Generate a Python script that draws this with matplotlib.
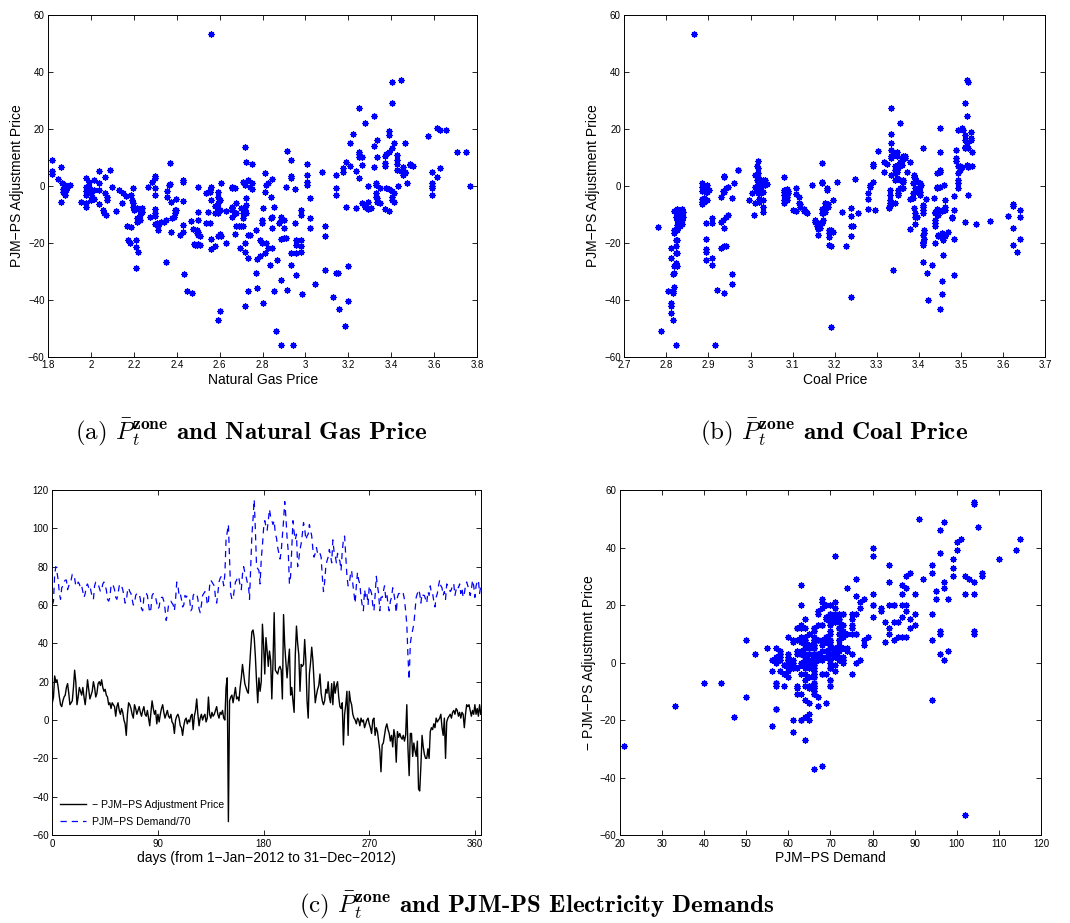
import matplotlib
matplotlib.use("Agg")
import matplotlib.pyplot as plt
from matplotlib.ticker import FuncFormatter
import numpy as np

plt.rcParams['font.family'] = ['Liberation Sans', 'DejaVu Sans']
plt.rcParams['mathtext.fontset'] = 'cm'

# (a) natural gas price vs PJM-PS adjustment price
gas_pts = [
    (1.82, 9.0), (1.82, 5.4), (1.82, 4.2), (1.847, 2.3), (1.859, 6.8), (1.859, -5.7),
    (1.865, 1.2), (1.87, -1.0), (1.875, -2.5), (1.88, -3.0), (1.885, -1.5), (1.878, 0.5),
    (1.89, -0.5), (1.872, -2.0), (1.904, 0.3), (1.952, -5.5),
    (1.976, 2.7), (1.976, -0.2), (1.976, -1.6), (1.976, -3.2), (1.976, -6.1), (1.976, -7.2),
    (1.99, 1.5), (1.99, -0.5), (2.0, -2.0), (2.0, -2.6), (2.005, -3.7), (2.0, -4.9),
    (2.014, 2.1), (2.014, -1.4), (2.014, -4.7),
    (2.038, 5.4), (2.038, 1.2), (2.038, -1.4), (2.038, -6.3),
    (2.056, -8.4), (2.06, -9.6), (2.066, 3.3), (2.066, -2.3), (2.07, -10.2),
    (2.075, -3.7), (2.077, -4.9), (2.087, 5.8), (2.1, -0.5), (2.119, -8.6), (2.131, -1.4),
    (2.147, -6.1), (2.15, -2.6), (2.162, -3.5), (2.17, -14.2), (2.175, -19.0), (2.18, -20.0),
    (2.185, -14.5), (2.189, -3.2), (2.19, -5.0), (2.195, -6.0), (2.195, -7.2), (2.196, -0.8),
    (2.2, -8.4), (2.209, -19.0), (2.212, -21.3), (2.21, -28.8), (2.215, -7.8), (2.215, -11.3),
    (2.215, -12.5), (2.218, -23.3), (2.227, -8.4), (2.227, -10.2), (2.227, -12.0),
    (2.24, -7.8), (2.24, -9.0), (2.266, -0.2), (2.277, -11.0), (2.285, 1.5),
    (2.297, 3.5), (2.297, 2.7), (2.297, -0.8), (2.297, -3.2), (2.297, -8.2), (2.297, -9.6),
    (2.3, -10.5), (2.3, -13.3), (2.313, -14.2), (2.313, -15.4), (2.31, -13.0),
    (2.328, -12.5), (2.341, -12.5), (2.352, -12.0), (2.355, -1.6), (2.355, -4.0),
    (2.364, 0.4), (2.37, 8.2), (2.37, 0.7), (2.372, -5.5), (2.372, -16.2), (2.352, -26.5),
    (2.38, -11.3), (2.385, -10.7), (2.391, -9.6), (2.391, -8.4), (2.398, -4.7), (2.398, -8.4),
    (2.414, -17.2), (2.429, 2.1), (2.43, 1.5), (2.429, -5.1), (2.429, -13.7), (2.43, -16.0),
    (2.434, -31.0), (2.448, -36.7), (2.468, -12.1), (2.471, -37.6), (2.476, -15.0),
    (2.481, -20.5), (2.485, -20.6), (2.492, -15.4), (2.492, -16.6), (2.492, -20.7),
    (2.499, -0.2), (2.499, -9.0), (2.499, -11.9), (2.499, -16.0), (2.499, -17.2), (2.5, -20.5),
    (2.507, -17.7), (2.507, -20.7), (2.538, -12.8), (2.537, -2.3), (2.546, -9.0),
    (2.554, -2.0), (2.554, -1.4), (2.554, -12.8), (2.558, 53.5), (2.561, -0.5), (2.561, -4.9),
    (2.561, -18.7), (2.561, -22.2), (2.577, -7.0), (2.577, -9.6), (2.577, -21.2),
    (2.593, -2.0), (2.593, -3.7), (2.593, -6.1), (2.593, -7.8), (2.593, -9.6), (2.593, -17.5),
    (2.593, -47.0), (2.6, -4.9), (2.6, -8.4), (2.6, -17.0), (2.6, -44.0), (2.605, 1.2),
    (2.608, -17.7), (2.628, -8.6), (2.631, -20.0),
    (2.659, -0.2), (2.659, -0.8), (2.659, -7.2), (2.659, -7.8), (2.659, -8.4), (2.659, -10.7),
    (2.67, -0.8), (2.67, -9.6), (2.67, -17.0), (2.678, -14.2), (2.678, -9.6), (2.678, -6.1),
    (2.69, -14.2), (2.694, -21.8), (2.701, -7.8), (2.701, -14.2), (2.709, 1.5), (2.709, -9.6),
    (2.709, -11.3), (2.709, -14.2), (2.717, 13.8), (2.717, 0.3), (2.717, -7.5), (2.717, -8.4),
    (2.717, -20.0), (2.717, -23.2), (2.717, -42.0), (2.725, 8.5), (2.725, -4.3), (2.725, -6.6),
    (2.725, -9.6), (2.732, 2.1), (2.732, -17.2), (2.732, -25.3), (2.732, -37.0),
    (2.743, -0.5), (2.743, -17.2), (2.753, 7.9), (2.753, 1.2), (2.753, -1.2),
    (2.768, -15.6), (2.768, -30.6), (2.774, -35.8), (2.774, -25.7), (2.787, -18.9),
    (2.787, -24.7), (2.795, -11.9), (2.795, -13.0), (2.795, -20.0), (2.802, -7.8),
    (2.802, -41.0), (2.81, 4.7), (2.81, -2.0), (2.81, -23.6), (2.818, 0.3), (2.818, -20.0),
    (2.826, 1.2), (2.826, -21.8), (2.833, -27.7), (2.837, -3.7), (2.837, -11.3),
    (2.846, 2.3), (2.846, -10.7), (2.846, -14.8), (2.846, -21.8), (2.852, -7.2), (2.852, -37.0),
    (2.865, -25.9), (2.861, -50.7), (2.877, -13.0), (2.885, -55.7), (2.885, -33.1),
    (2.888, -10.7), (2.888, -11.9), (2.888, -18.7), (2.899, -11.9), (2.899, -14.8),
    (2.899, -18.3), (2.908, -0.5), (2.908, -18.3), (2.914, 12.4), (2.914, -36.4),
    (2.934, 9.3), (2.934, 3.5), (2.934, 2.7), (2.934, -23.6), (2.934, -27.7), (2.942, -55.9),
    (2.95, -1.2), (2.95, -12.8), (2.958, -18.9), (2.958, -20.7), (2.958, -23.6), (2.958, -31.2),
    (2.981, -8.4), (2.981, -10.2), (2.981, -18.9), (2.981, -21.2), (2.981, -23.0),
    (2.986, -37.8), (3.007, 7.6), (3.007, 3.9), (3.007, 1.5), (3.007, 0.3), (3.02, -4.3),
    (3.02, -11.3), (3.02, -14.8), (3.043, -34.3), (3.079, 4.8), (3.09, -14.2), (3.09, -17.5),
    (3.09, -29.4), (3.126, -38.8), (3.141, 3.9), (3.141, -0.8), (3.141, -3.2), (3.141, -30.6),
    (3.152, -30.6), (3.157, -43.2), (3.175, 6.2), (3.175, 5.0), (3.183, -49.0), (3.191, 8.5),
    (3.191, -7.5), (3.199, -40.2), (3.199, -28.0), (3.206, 15.2), (3.206, 7.0), (3.222, 18.4),
    (3.234, 5.4), (3.234, -7.7), (3.25, 27.5), (3.25, 12.0), (3.25, 11.2), (3.25, 10.3),
    (3.25, 2.7), (3.265, 10.3), (3.265, 7.4), (3.265, -5.8), (3.276, 22.0), (3.276, -7.5),
    (3.292, 0.0), (3.292, -5.5), (3.292, -8.2), (3.307, -7.8), (3.318, 24.5), (3.318, 14.0),
    (3.318, 6.8), (3.328, 1.2), (3.328, 0.3), (3.328, -2.6), (3.328, -3.7), (3.335, 16.3),
    (3.335, 10.3), (3.335, -4.3), (3.335, -5.5), (3.346, -0.8), (3.346, -6.1),
    (3.37, 10.5), (3.37, 8.2), (3.37, 7.0), (3.37, -8.2), (3.377, 11.4), (3.377, -0.8),
    (3.39, 19.4), (3.39, 17.9), (3.39, 12.0), (3.39, -1.2), (3.39, -8.6),
    (3.405, 13.2), (3.405, -1.6), (3.405, -3.7), (3.405, -4.9), (3.405, 36.5), (3.405, 29.2),
    (3.413, 15.2), (3.413, -2.3), (3.413, -5.5), (3.427, 10.9), (3.427, 9.1), (3.427, 7.9),
    (3.427, 5.6), (3.432, 0.0), (3.447, 37.1), (3.447, 5.4), (3.455, 6.8), (3.455, 3.9),
    (3.463, 15.2), (3.463, 5.0), (3.463, 4.4), (3.474, 1.2), (3.486, 7.9), (3.486, 7.4),
    (3.499, 7.0), (3.572, 17.5), (3.592, 5.0), (3.592, 1.2), (3.592, 0.0), (3.592, -0.8),
    (3.592, -3.2), (3.613, 20.5), (3.613, 3.0), (3.626, 19.8), (3.626, 6.5), (3.657, 19.8),
    (3.704, 12.0), (3.747, 12.0), (3.766, 0.0),
]

# (b) coal price vs PJM-PS adjustment price
coal_pts = [
    (2.781, -14.5), (2.787, -50.7), (2.803, -37.0),
    (2.81, -21.8), (2.81, -25.3), (2.81, -40.9), (2.81, -42.0), (2.81, -44.6),
    (2.815, -30.8), (2.815, -36.7), (2.815, -37.6), (2.815, -47.0),
    (2.818, -8.6), (2.818, -15.4), (2.818, -16.6), (2.818, -28.2), (2.818, -30.6), (2.818, -35.3),
    (2.822, -10.7), (2.822, -18.9), (2.822, -21.2), (2.822, -23.6), (2.822, -27.1), (2.822, -55.7),
    (2.826, -8.2), (2.826, -10.2), (2.826, -11.9), (2.826, -13.7), (2.826, -15.4), (2.826, -19.0),
    (2.826, -23.6), (2.826, -28.0), (2.832, -8.4), (2.832, -10.2), (2.832, -12.5), (2.832, -14.0),
    (2.837, -8.2), (2.837, -9.6), (2.837, -11.9), (2.837, -13.3), (2.84, -9.0), (2.84, -10.7),
    (2.865, 53.5), (2.884, 1.2), (2.884, -0.2), (2.884, -1.6), (2.884, -4.7), (2.884, -5.5),
    (2.884, -6.3), (2.889, -0.8), (2.889, -4.3), (2.889, -5.5), (2.893, -12.8), (2.893, -18.7),
    (2.893, -22.2), (2.893, -23.3), (2.893, -25.9), (2.893, -0.2), (2.893, -2.0),
    (2.896, 0.3), (2.896, -0.8), (2.896, -2.0), (2.896, -4.9), (2.902, -1.4),
    (2.908, -11.3), (2.908, -12.8), (2.908, -25.1), (2.908, -27.7), (2.916, -55.7), (2.921, -36.4),
    (2.93, -4.0), (2.93, -21.8), (2.93, -12.5), (2.934, -1.6), (2.934, -11.9),
    (2.938, 3.5), (2.938, 3.0), (2.938, -2.0), (2.938, -21.2), (2.938, -14.8), (2.938, -37.6),
    (2.942, -0.8), (2.942, -10.7), (2.942, -21.0), (2.946, -0.2), (2.946, -10.2),
    (2.955, -30.8), (2.955, -34.3), (2.957, -4.3), (2.961, 1.2), (2.969, 5.6), (2.971, 5.8),
    (2.997, -4.9), (3.003, -2.6), (3.007, -10.2), (3.011, 3.9), (3.011, -0.2), (3.011, -6.1),
    (3.015, 7.0), (3.015, 2.1), (3.015, -1.4), (3.017, 8.9), (3.017, 6.2), (3.017, 4.4),
    (3.017, 3.3), (3.017, 1.5), (3.017, 0.3), (3.017, -0.8), (3.017, -2.0), (3.017, -2.6),
    (3.021, 2.1), (3.021, -0.2), (3.021, -2.3), (3.021, -4.7), (3.021, -5.5),
    (3.025, 0.9), (3.025, -1.4), (3.025, -2.6), (3.029, 2.1), (3.029, 0.3), (3.029, -2.0),
    (3.029, -4.9), (3.029, -7.2), (3.029, -9.0), (3.034, 2.1), (3.034, 0.3), (3.038, 0.7),
    (3.08, 3.3), (3.08, -1.4), (3.08, -2.0), (3.08, -3.2), (3.08, -4.9), (3.08, -5.8),
    (3.086, -1.2), (3.086, -2.6), (3.086, -3.7), (3.086, -4.9), (3.09, -1.6), (3.09, -2.6),
    (3.102, -8.4), (3.108, -0.8), (3.108, -2.8), (3.108, -8.6), (3.114, -3.7), (3.114, -6.1),
    (3.118, -6.3), (3.118, -7.5), (3.126, -8.2), (3.126, -8.6), (3.132, -9.0), (3.135, -9.3),
    (3.145, 0.3), (3.153, -11.9), (3.153, -12.5), (3.157, -13.1), (3.157, -14.0),
    (3.161, -17.2), (3.161, -15.2), (3.165, -13.0), (3.165, -14.8),
    (3.169, 8.2), (3.169, 1.5), (3.169, 0.9), (3.169, -8.2), (3.169, -9.3), (3.169, -12.8),
    (3.173, -8.6), (3.173, -9.6), (3.173, -11.9), (3.177, -5.8), (3.177, -7.8), (3.177, -9.0),
    (3.181, -0.8), (3.181, -1.4), (3.181, -6.3), (3.181, -7.0), (3.185, -6.3), (3.185, -7.2),
    (3.187, -15.4), (3.187, -16.6), (3.187, -18.0), (3.187, -20.7), (3.191, -15.6),
    (3.191, -21.0), (3.191, -49.3), (3.197, -16.0), (3.197, -4.9), (3.205, 1.5), (3.217, -9.0),
    (3.227, -21.0), (3.239, -7.8), (3.239, -10.5), (3.239, -14.2), (3.239, -17.5),
    (3.239, -38.8), (3.243, -14.2), (3.248, 2.3), (3.255, -9.3),
    (3.28, -2.6), (3.28, -4.7), (3.28, -8.2), (3.284, 0.3), (3.284, -0.5),
    (3.292, 1.5), (3.292, 7.7), (3.292, 7.0), (3.296, -8.4), (3.304, 12.4), (3.316, 4.8),
    (3.317, 8.5), (3.325, 7.9), (3.328, -7.2), (3.328, -7.8),
    (3.332, -1.4), (3.332, -3.2), (3.332, -4.9), (3.332, -5.8), (3.332, -7.0),
    (3.333, 27.5), (3.333, 18.4), (3.333, 15.2), (3.333, 12.8), (3.333, 10.5), (3.333, 9.7),
    (3.333, 3.9), (3.338, -29.4), (3.338, 12.0), (3.338, 10.9),
    (3.343, 7.0), (3.343, 5.6), (3.343, 4.4), (3.343, 2.1), (3.343, -6.1),
    (3.347, 12.0), (3.347, 10.5), (3.347, 6.8), (3.347, 5.0), (3.347, 2.7),
    (3.351, 7.4), (3.351, 6.2), (3.351, -1.4), (3.351, -2.6), (3.351, -3.2),
    (3.355, 22.0), (3.355, 8.5), (3.355, 7.9), (3.355, 2.1), (3.355, -0.8),
    (3.359, 9.1), (3.359, 7.4), (3.359, -0.8), (3.363, 10.5), (3.363, 10.3), (3.363, 2.1),
    (3.363, 1.5), (3.363, -0.8), (3.367, 10.5), (3.367, 9.7), (3.373, 5.0),
    (3.379, 8.5), (3.379, -4.7), (3.379, -15.2), (3.385, 1.2), (3.385, -2.6), (3.385, -4.3),
    (3.389, 3.9), (3.389, 3.3), (3.389, -7.8), (3.391, 2.7), (3.391, -0.8), (3.391, -9.6),
    (3.391, -10.7), (3.391, -13.3), (3.395, -1.4), (3.395, -2.0), (3.395, -10.7),
    (3.399, 1.5), (3.403, 1.2), (3.403, -0.2), (3.403, -2.0), (3.403, -3.2), (3.405, 0.3),
    (3.409, 13.5), (3.409, -6.6), (3.409, -7.2), (3.409, -8.4), (3.409, -9.6), (3.409, -17.2),
    (3.409, -19.5), (3.409, -20.1), (3.409, -20.7), (3.409, -26.5),
    (3.413, -15.4), (3.413, -16.6), (3.413, -18.7), (3.416, -4.7), (3.419, -30.6),
    (3.421, -40.0), (3.432, -27.7), (3.435, -4.3),
    (3.439, -9.0), (3.439, -9.6), (3.439, -11.9), (3.439, -13.0), (3.439, -14.0), (3.439, -20.0),
    (3.442, 4.7), (3.442, -0.2), (3.442, -0.8), (3.442, -8.2), (3.446, -9.0), (3.446, -10.2),
    (3.446, -17.2), (3.446, -17.7), (3.45, 5.0), (3.45, 5.6), (3.45, 20.5), (3.45, 12.0),
    (3.45, -43.2), (3.45, -0.5), (3.45, -17.7), (3.454, -8.4), (3.454, -8.8), (3.454, -16.6),
    (3.454, -33.2), (3.454, -37.8), (3.458, -19.1), (3.458, -24.2), (3.46, 0.3),
    (3.462, -4.9), (3.462, -7.2), (3.462, -8.4), (3.462, -17.7), (3.47, -16.0),
    (3.478, -10.7), (3.478, -11.3), (3.484, -3.5), (3.484, -8.4), (3.484, -18.7), (3.484, -31.2),
    (3.488, 12.8), (3.488, 9.7), (3.488, 8.9), (3.494, 7.0), (3.494, 4.4), (3.494, 2.1),
    (3.494, 0.9), (3.494, -0.8), (3.494, 19.8), (3.498, 7.0), (3.498, 6.2), (3.498, 5.6),
    (3.502, 20.2), (3.502, 6.8), (3.506, 19.8), (3.51, 29.2), (3.51, 17.9), (3.51, 16.1),
    (3.51, 13.8), (3.51, 13.2), (3.51, -12.5), (3.514, 24.5), (3.514, 15.0), (3.514, 37.1),
    (3.514, 7.4), (3.518, 36.5), (3.518, 6.8), (3.518, -3.2), (3.518, 13.2),
    (3.523, 19.0), (3.523, 17.0), (3.523, 16.1), (3.526, 12.0), (3.526, 7.0),
    (3.536, -13.3), (3.568, -12.1), (3.613, -10.5), (3.623, -6.3), (3.623, -7.0),
    (3.623, -14.8), (3.623, -20.7), (3.633, -23.0), (3.641, -8.4), (3.641, -10.7),
    (3.641, -18.7),
]

# (c) daily series, 1-Jan-2012 .. 31-Dec-2012
neg_adj_price = [
    9, 12, 23, 20, 21, 17, 12, 8, 7, 10,
    12, 13, 17, 19, 14, 8, 9, 10, 17, 26,
    20, 8, 12, 17, 15, 13, 17, 12, 8, 14,
    21, 16, 11, 13, 15, 20, 17, 12, 14, 19,
    20, 18, 21, 17, 15, 16, 13, 12, 8, 9,
    6, 9, 8, 7, 2, 7, 9, 5, 3, 6,
    4, 0, -2, -8, 3, 9, 8, 6, 3, 1,
    8, 6, 3, 5, 7, 4, 2, 5, 7, 3,
    2, 5, 1, -3, 4, 10, 6, 3, 5, -2,
    3, -1, 3, 6, 8, 4, 1, 3, 5, 2,
    1, 3, -1, -2, -7, 0, 2, 3, 1, -3,
    -4, -8, -3, 0, 1, -2, 0, -1, 2, 3,
    -5, 2, 5, 11, 3, -3, 1, 3, 0, 2,
    3, -1, 1, 12, 3, 1, 4, 2, 3, 5,
    7, 3, 1, 4, 3, 5, 1, 0, 17, 22,
    -53, 10, 12, 13, 9, 13, 17, 11, 12, 10,
    17, 22, 29, 24, 19, 17, 15, 14, 27, 37,
    46, 47, 43, 33, 20, 9, 22, 15, 20, 50,
    39, 24, 43, 36, 28, 36, 31, 11, 30, 56,
    26, 25, 24, 27, 28, 26, 11, 55, 39, 30,
    22, 30, 37, 13, 17, 10, 4, 34, 49, 40,
    34, 15, 29, 28, 29, 42, 31, 10, 1, 24,
    30, 38, 31, 20, 9, 13, 16, 18, 24, 14,
    10, 8, 10, 16, 14, 20, 12, 9, 19, 8,
    20, 14, 18, 20, 12, 7, 6, 9, -13, 3,
    8, 15, -8, 15, 10, 8, 3, 1, 0, -2,
    1, 0, -3, 1, -1, 0, -4, -2, 0, 1,
    -2, -4, -7, 0, 1, -8, -4, -6, -11, -16,
    -27, -13, -12, -8, -4, -2, -5, -7, -11, -8,
    -14, -5, -9, -22, -6, -9, -7, -9, -10, -8,
    -11, -8, 8, -15, -29, -7, -7, -19, -12, -16,
    -19, -11, -36, -37, -24, -8, -14, -18, -20, -20,
    -15, -20, -6, -4, -5, -2, -4, 1, -1, 0,
    1, 3, -4, -8, 1, -20, -1, 1, 2, 3,
    1, 4, 5, 3, 6, 5, 2, 4, 1, 4,
    3, -4, 3, 8, 7, 8, 5, 2, 5, 3,
    8, 3, 6, 2, 8, 3,
]

demand = [
    60, 62, 76, 80, 77, 73, 66, 63, 69, 70,
    72, 73, 73, 68, 70, 72, 73, 76, 76, 74,
    70, 70, 72, 71, 69, 70, 67, 64, 66, 70,
    71, 69, 70, 67, 64, 63, 70, 72, 72, 71,
    69, 67, 68, 71, 72, 70, 68, 63, 62, 64,
    70, 69, 70, 68, 64, 63, 66, 70, 71, 70,
    68, 65, 61, 62, 67, 69, 67, 66, 63, 60,
    61, 65, 66, 66, 66, 63, 58, 57, 64, 66,
    66, 65, 60, 56, 58, 65, 66, 65, 64, 61,
    58, 59, 63, 64, 64, 62, 58, 52, 55, 60,
    61, 62, 61, 60, 57, 63, 72, 70, 65, 66,
    63, 59, 60, 65, 64, 65, 64, 63, 57, 58,
    65, 66, 66, 66, 63, 58, 56, 60, 65, 66,
    67, 66, 60, 62, 70, 73, 72, 71, 70, 64,
    61, 66, 72, 74, 75, 74, 70, 76, 94, 98,
    102, 84, 66, 63, 63, 68, 72, 73, 75, 74,
    70, 68, 76, 80, 77, 75, 72, 71, 63, 80,
    96, 105, 115, 99, 80, 79, 78, 71, 84, 91,
    100, 104, 101, 99, 104, 110, 106, 104, 102, 104,
    97, 95, 90, 87, 84, 88, 96, 104, 114, 106,
    95, 88, 71, 75, 90, 104, 98, 94, 97, 80,
    84, 89, 92, 97, 103, 100, 94, 96, 97, 102,
    99, 96, 89, 85, 87, 90, 87, 88, 87, 85,
    75, 67, 72, 80, 83, 85, 89, 86, 82, 94,
    88, 86, 82, 87, 84, 83, 78, 88, 94, 96,
    85, 75, 70, 71, 76, 78, 71, 66, 61, 70,
    77, 73, 71, 64, 60, 57, 68, 64, 66, 60,
    70, 68, 66, 60, 57, 65, 75, 70, 66, 57,
    64, 64, 67, 70, 64, 66, 60, 57, 62, 64,
    69, 66, 62, 56, 64, 66, 66, 65, 66, 66,
    63, 57, 50, 33, 21, 40, 44, 47, 50, 57,
    64, 66, 68, 66, 61, 66, 65, 65, 63, 61,
    67, 65, 70, 66, 66, 62, 59, 64, 66, 70,
    73, 70, 69, 65, 67, 63, 71, 70, 69, 67,
    68, 71, 71, 65, 68, 70, 69, 71, 66, 69,
    64, 66, 70, 72, 70, 68, 65, 68, 73, 70,
    64, 70, 72, 73, 66, 70,
]

MINUS = '\u2212'
days = np.arange(len(neg_adj_price))
assert len(demand) == len(days)


def mfmt(v, pos):
    return f"{v:g}".replace('-', MINUS)


def style(ax, xticks, yticks):
    ax.set_xticks(xticks)
    ax.set_yticks(yticks)
    ax.xaxis.set_major_formatter(FuncFormatter(mfmt))
    ax.yaxis.set_major_formatter(FuncFormatter(mfmt))
    ax.tick_params(direction='in', top=True, right=True, length=3.5, width=0.6,
                   labelsize=7, pad=2.5)
    for s in ax.spines.values():
        s.set_linewidth(0.7)


star = dict(linestyle='none', marker=(8, 2, 0), markersize=4.6, color='b',
            markeredgewidth=0.9)
lab = 10

fig = plt.figure(figsize=(10.7, 9.23), dpi=100)

ax_a = fig.add_axes([0.0449, 0.6132, 0.401, 0.3705])
gx, gy = zip(*gas_pts)
ax_a.plot(gx, gy, **star)
ax_a.set_xlim(1.8, 3.8)
ax_a.set_ylim(-60, 60)
style(ax_a, np.round(np.arange(1.8, 3.81, 0.2), 1), np.arange(-60, 61, 20))
ax_a.set_xlabel("Natural Gas Price", fontsize=lab, labelpad=1.5)
ax_a.set_ylabel(f"PJM{MINUS}PS Adjustment Price", fontsize=lab, labelpad=3)

ax_b = fig.add_axes([0.5835, 0.6132, 0.3932, 0.3705])
cx, cy = zip(*coal_pts)
ax_b.plot(cx, cy, **star)
ax_b.set_xlim(2.7, 3.7)
ax_b.set_ylim(-60, 60)
style(ax_b, np.round(np.arange(2.7, 3.71, 0.1), 1), np.arange(-60, 61, 20))
ax_b.set_xlabel("Coal Price", fontsize=lab, labelpad=1.5)
ax_b.set_ylabel(f"PJM{MINUS}PS Adjustment Price", fontsize=lab, labelpad=3)

ax_c = fig.add_axes([0.0489, 0.0953, 0.4004, 0.3738])
ax_c.plot(days, neg_adj_price, color='k', lw=1.0,
          label=f"{MINUS} PJM{MINUS}PS Adjustment Price")
ax_c.plot(days, demand, color='b', lw=0.9, linestyle=(0, (5, 4)),
          label=f"PJM{MINUS}PS Demand/70")
ax_c.set_xlim(0, 365)
ax_c.set_ylim(-60, 120)
style(ax_c, [0, 90, 180, 270, 360], np.arange(-60, 121, 20))
ax_c.set_xlabel(f"days (from 1{MINUS}Jan{MINUS}2012 to 31{MINUS}Dec{MINUS}2012)",
                fontsize=lab, labelpad=1.5)
ax_c.legend(loc='lower left', frameon=False, fontsize=7.6, handlelength=2.4,
            handletextpad=0.6, borderaxespad=0.35, labelspacing=0.7)

ax_d = fig.add_axes([0.5794, 0.0953, 0.3935, 0.3738])
ax_d.plot(demand, neg_adj_price, **star)
ax_d.set_xlim(20, 120)
ax_d.set_ylim(-60, 60)
style(ax_d, np.arange(20, 121, 10), np.arange(-60, 61, 20))
ax_d.set_xlabel(f"PJM{MINUS}PS Demand", fontsize=lab, labelpad=1.5)
ax_d.set_ylabel(f"{MINUS} PJM{MINUS}PS Adjustment Price", fontsize=lab, labelpad=3)

cap = dict(family='cmb10', fontsize=18, ha='center', va='center')
fig.text(0.235, 0.532, r"$\mathrm{(a)}$ $\bar{P}_t^{\mathbf{zone}}$ and Natural Gas Price", **cap)
fig.text(0.779, 0.532, r"$\mathrm{(b)}$ $\bar{P}_t^{\mathbf{zone}}$ and Coal Price", **cap)
fig.text(0.501, 0.0195, r"$\mathrm{(c)}$ $\bar{P}_t^{\mathbf{zone}}$ and PJM-PS Electricity Demands", **cap)

fig.savefig("out.png", dpi=100)
